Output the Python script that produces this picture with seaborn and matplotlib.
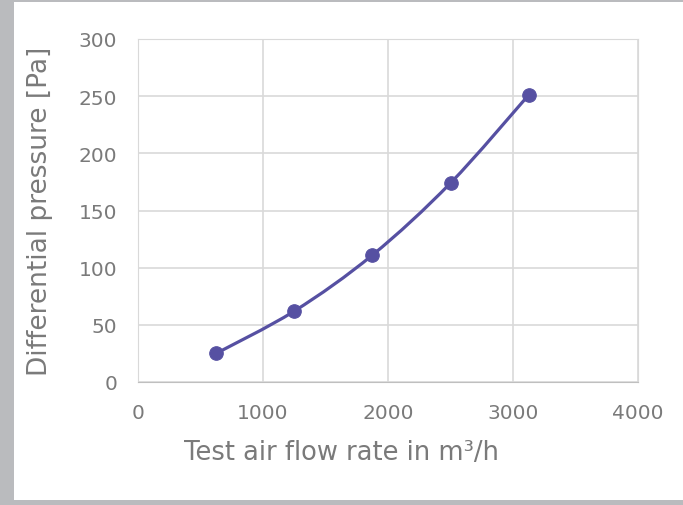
import numpy as np
import pandas as pd
import seaborn as sns
import matplotlib.pyplot as plt
from matplotlib.path import Path
from matplotlib.patches import PathPatch, Rectangle

# data
flow = [625, 1250, 1875, 2500, 3125]
pressure = [25, 62, 111, 174, 251]
x_ticks = [0, 1000, 2000, 3000, 4000]
y_ticks = [0, 50, 100, 150, 200, 250, 300]

df = pd.DataFrame({'flow': flow, 'pressure': pressure})

sns.set_style('white')
plt.rcParams['font.family'] = ['DejaVu Sans']

color = '#5650a2'
grey_txt = '#7a7a7a'

fig = plt.figure(figsize=(6.83, 5.06), dpi=100)
fig.patch.set_facecolor('#babbbe')
# white chart area inside the grey frame
fig.patches.append(Rectangle((14 / 683, 5 / 506), 1 - 14 / 683, 1 - 8 / 506,
                             transform=fig.transFigure, facecolor='white',
                             edgecolor='none', zorder=-10))

ax = fig.add_axes([138 / 683, 1 - 383 / 506, 500 / 683, 343 / 506])
ax.set_facecolor('white')

# smoothed line like Excel's (catmull-rom as bezier segments)
pts = df[['flow', 'pressure']].to_numpy(dtype=float)
verts = [pts[0]]
codes = [Path.MOVETO]
for i in range(len(pts) - 1):
    p0 = pts[i - 1] if i > 0 else pts[i]
    p1 = pts[i]
    p2 = pts[i + 1]
    p3 = pts[i + 2] if i + 2 < len(pts) else pts[i + 1]
    c1 = p1 + (p2 - p0) / 6
    c2 = p2 - (p3 - p1) / 6
    verts += [c1, c2, p2]
    codes += [Path.CURVE4] * 3
ax.add_patch(PathPatch(Path(verts, codes), facecolor='none', edgecolor=color,
                       lw=2.3, zorder=3, capstyle='round'))

sns.scatterplot(data=df, x='flow', y='pressure', ax=ax, color=color,
                s=95, edgecolor=color, zorder=4, legend=False)

ax.set_xlim(0, 4000)
ax.set_ylim(0, 300)
ax.set_xticks(x_ticks)
ax.set_yticks(y_ticks)
ax.grid(True, color='#d9d9d9', lw=1.2)
ax.set_axisbelow(True)
for s in ['top', 'right', 'left']:
    ax.spines[s].set_color('#d9d9d9')
ax.spines['bottom'].set_color('#bfbfbf')
ax.tick_params(axis='both', colors=grey_txt, labelsize=14.5, length=0)
ax.tick_params(axis='x', pad=15)
ax.tick_params(axis='y', pad=15)
ax.set_xlabel('Test air flow rate in m³/h', fontsize=18.5, color=grey_txt)
ax.set_ylabel('Differential pressure [Pa]', fontsize=19, color=grey_txt)
ax.xaxis.set_label_coords(0.408, -0.165)
ax.yaxis.set_label_coords(-0.17, 0.5)

fig.savefig('out.png', dpi=100, facecolor=fig.get_facecolor())
